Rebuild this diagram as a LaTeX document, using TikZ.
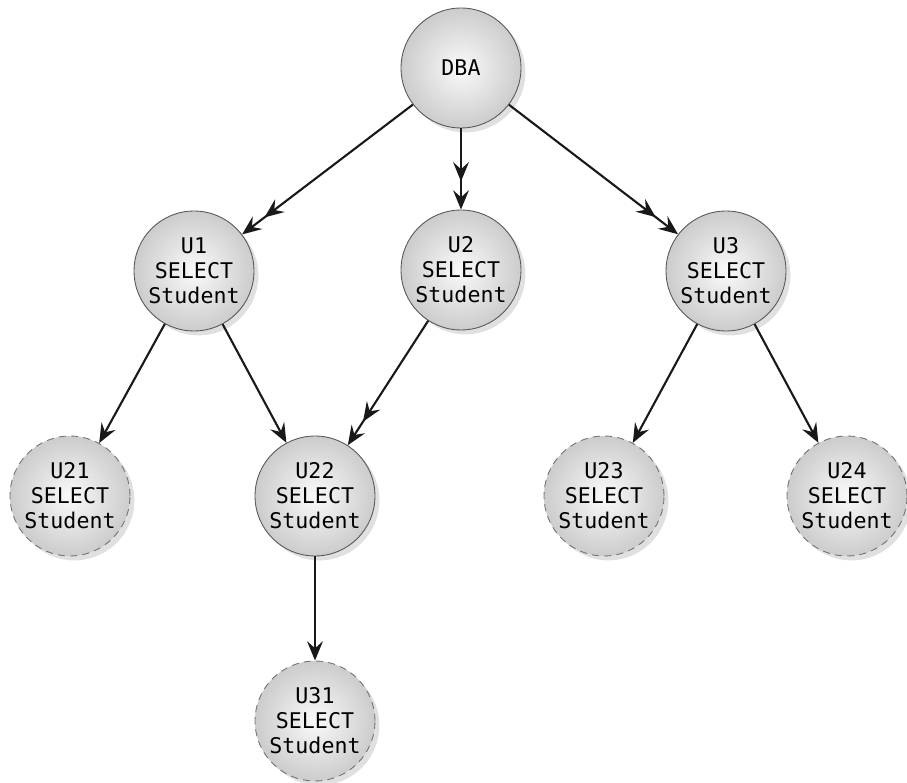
\documentclass[tikz,border=0pt]{standalone}
\usepackage{fontspec}
\setmonofont{DejaVu Sans Mono}
\usetikzlibrary{positioning,arrows.meta,shadows}

\tikzset{
  user/.style={circle,draw=black!65,line width=0.5pt,minimum size=2.4cm,inner sep=0pt,align=center,
    shading=radial,inner color=black!2,outer color=black!20,
    font=\ttfamily\fontsize{12.3}{14.2}\selectfont,
    drop shadow={shadow xshift=2.5pt,shadow yshift=-2.5pt,fill=black!12,opacity=1}},
  cascade/.style={user,draw=black!55,dash pattern=on 4pt off 3pt},
  grant/.style={-{Stealth[length=11pt,width=9pt,inset=4pt]},line width=1.2pt,draw=black!90},
  regrant/.style={-{Stealth[length=11pt,width=9pt,inset=4pt,sep=5pt]Stealth[length=11pt,width=9pt,inset=4pt]},line width=1.2pt,draw=black!90}
}

\begin{document}
\begin{tikzpicture}[x=0.02cm,y=-0.02cm]
  \useasboundingbox (0,0) rectangle (907,783);

  \node at (461,68) [user] (dba) {DBA};

  \node at (194,271) [user] (u1) {U1\\SELECT\\Student};
  \node at (461,270) [user] (u2) {U2\\SELECT\\Student};
  \node at (726,271) [user] (u3) {U3\\SELECT\\Student};

  \node at (70,496) [cascade] (u21) {U21\\SELECT\\Student};
  \node at (315,496) [user] (u22) {U22\\SELECT\\Student};
  \node at (604,496) [cascade] (u23) {U23\\SELECT\\Student};
  \node at (847,496) [cascade] (u24) {U24\\SELECT\\Student};

  \node at (315,721) [cascade] (u31) {U31\\SELECT\\Student};

  \draw[regrant] (dba) -- (u1);
  \draw[regrant] (dba) -- (u2);
  \draw[regrant] (dba) -- (u3);
  \draw[grant] (u1) -- (u21);
  \draw[grant] (u1) -- (u22);
  \draw[regrant] (u2) -- (u22);
  \draw[grant] (u3) -- (u23);
  \draw[grant] (u3) -- (u24);
  \draw[grant] (u22) -- (u31);
\end{tikzpicture}
\end{document}
